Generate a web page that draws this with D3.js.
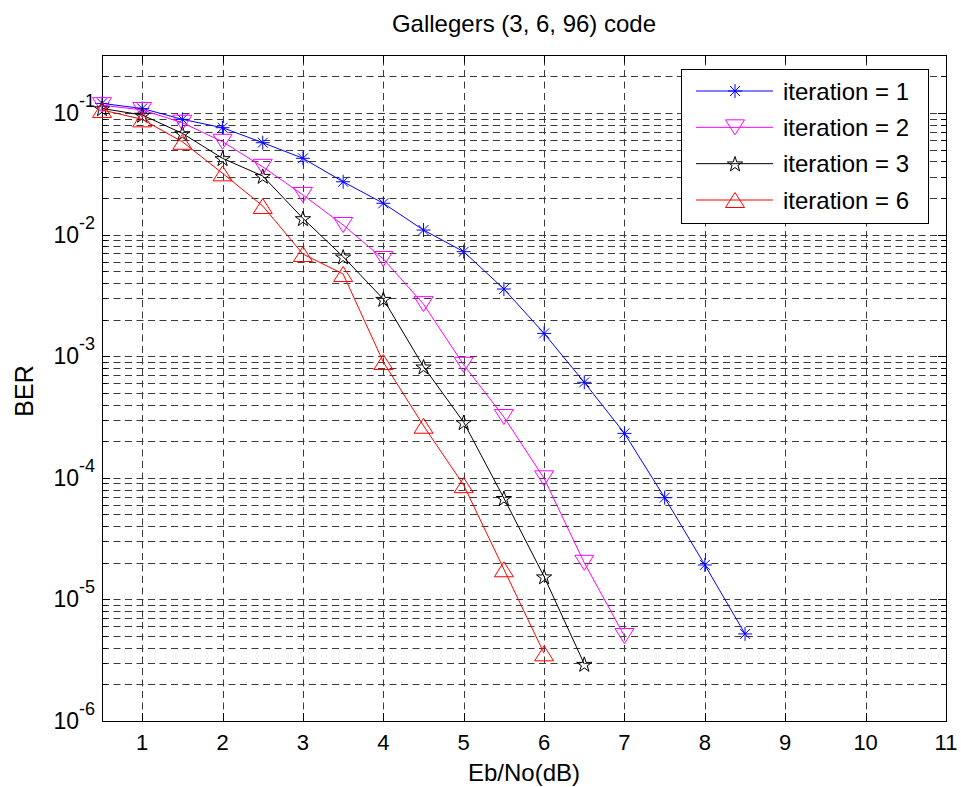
<!DOCTYPE html>
<html>
<head>
<meta charset="utf-8">
<script src="https://cdn.jsdelivr.net/npm/d3@7/dist/d3.min.js"></script>
<style>
  body { margin: 0; background: #fff; }
  svg { display: block; font-family: "Liberation Sans", Arial, sans-serif; }
</style>
</head>
<body>
<svg id="chart" width="961" height="787"></svg>
<script>
// ---- data ----
const title = "Gallegers (3, 6, 96) code";
const xLabel = "Eb/No(dB)";
const yLabel = "BER";
const xTicks = [1, 2, 3, 4, 5, 6, 7, 8, 9, 10, 11];
const yTickExps = [-1, -2, -3, -4, -5, -6];

const ebno1 = [0.5, 1, 1.5, 2, 2.5, 3, 3.5, 4, 4.5, 5, 5.5, 6, 6.5, 7, 7.5, 8, 8.5];
const ber1 = [0.120, 0.109, 0.0887, 0.0757, 0.057, 0.0424, 0.0272, 0.0181, 0.0109, 0.00724, 0.00357, 0.00154, 6.1e-4, 2.32e-4, 6.86e-5, 1.92e-5, 5.2e-6];

const ebno2 = [0.5, 1, 1.5, 2, 2.5, 3, 3.5, 4, 4.5, 5, 5.5, 6, 6.5, 7];
const ber2 = [0.116, 0.106, 0.0832, 0.058, 0.0361, 0.0212, 0.0120, 0.0063, 0.00268, 8.5e-4, 3.16e-4, 9.9e-5, 2.0e-5, 5.0e-6];

const ebno3 = [0.5, 1, 1.5, 2, 2.5, 3, 3.5, 4, 4.5, 5, 5.5, 6, 6.5];
const ber3 = [0.109, 0.0964, 0.068, 0.0424, 0.0303, 0.0136, 0.00658, 0.00295, 8.2e-4, 2.86e-4, 6.8e-5, 1.54e-5, 2.94e-6];

const ebno6 = [0.5, 1, 1.5, 2, 2.5, 3, 3.5, 4, 4.5, 5, 5.5, 6];
const ber6 = [0.106, 0.0887, 0.058, 0.0319, 0.0172, 0.00692, 0.00474, 8.95e-4, 2.68e-4, 8.7e-5, 1.77e-5, 3.6e-6];

const seriesNames = ["iteration = 1", "iteration = 2", "iteration = 3", "iteration = 6"];
const seriesColors = ["#0000ff", "#ff00ff", "#000000", "#ff0000"];
const seriesMarkers = ["asterisk", "triangleDown", "pentagram", "triangleUp"];

const series = [
  { name: seriesNames[0], x: ebno1, y: ber1, color: seriesColors[0], marker: seriesMarkers[0] },
  { name: seriesNames[1], x: ebno2, y: ber2, color: seriesColors[1], marker: seriesMarkers[1] },
  { name: seriesNames[2], x: ebno3, y: ber3, color: seriesColors[2], marker: seriesMarkers[2] },
  { name: seriesNames[3], x: ebno6, y: ber6, color: seriesColors[3], marker: seriesMarkers[3] }
];

// ---- layout ----
const L = 102, R = 946, T = 55, B = 721;
const svg = d3.select("#chart");

const x = d3.scaleLinear().domain([0.5, 11]).range([L, R]);
const y = d3.scaleLog().domain([1e-6, 0.3]).range([B, T]);

// grid values
const yGrid = [];
for (let e = -6; e <= -1; e++) {
  for (let m = 1; m <= 9; m++) {
    const v = m * Math.pow(10, e);
    if (v >= 1e-6 && v <= 0.3) yGrid.push(v);
  }
}
const xGrid = xTicks.filter(t => t < 11);

const grid = svg.append("g").attr("stroke", "#3a3a3a").attr("stroke-width", 1)
  .attr("stroke-dasharray", "7,4.5").attr("fill", "none");
grid.selectAll("line.h").data(yGrid.filter(v => v > 1e-6)).enter().append("line")
  .attr("x1", L).attr("x2", R)
  .attr("y1", d => Math.round(y(d)) + 0.5).attr("y2", d => Math.round(y(d)) + 0.5);
grid.selectAll("line.v").data(xGrid).enter().append("line")
  .attr("y1", B).attr("y2", T)
  .attr("x1", d => Math.round(x(d)) + 0.5).attr("x2", d => Math.round(x(d)) + 0.5);

// axes ticks (inside, on all four sides)
const ax = svg.append("g").attr("stroke", "#000").attr("stroke-width", 1);
xTicks.forEach(t => {
  const px = Math.round(x(t)) + 0.5;
  ax.append("line").attr("x1", px).attr("x2", px).attr("y1", B).attr("y2", B - 8);
  ax.append("line").attr("x1", px).attr("x2", px).attr("y1", T).attr("y2", T + 8);
});
yGrid.forEach(v => {
  const py = Math.round(y(v)) + 0.5;
  const major = Math.abs(Math.log10(v) - Math.round(Math.log10(v))) < 1e-9;
  const len = major ? 8 : 5;
  ax.append("line").attr("x1", L).attr("x2", L + len).attr("y1", py).attr("y2", py);
  ax.append("line").attr("x1", R).attr("x2", R - len).attr("y1", py).attr("y2", py);
});
// box
svg.append("rect").attr("x", L + 0.5).attr("y", T + 0.5).attr("width", R - L).attr("height", B - T)
  .attr("fill", "none").attr("stroke", "#000").attr("stroke-width", 1);

// tick labels
svg.append("g").selectAll("text").data(xTicks).enter().append("text")
  .attr("x", d => x(d)).attr("y", 750).attr("text-anchor", "middle")
  .attr("font-size", 22).attr("fill", "#000").text(d => d);

const yl = svg.append("g").selectAll("text").data(yTickExps).enter().append("text")
  .attr("x", 95).attr("y", d => y(Math.pow(10, d)) + 8).attr("text-anchor", "end")
  .attr("font-size", 23).attr("fill", "#000");
yl.append("tspan").text("10");
yl.append("tspan").attr("font-size", 18).attr("dy", -14).text(d => d);

// titles
svg.append("text").attr("x", (L + R) / 2).attr("y", 32).attr("text-anchor", "middle")
  .attr("font-size", 24).text(title);
svg.append("text").attr("x", (L + R) / 2).attr("y", 781).attr("text-anchor", "middle")
  .attr("font-size", 24).text(xLabel);
svg.append("text").attr("transform", `translate(33,${(T + B) / 2 + 3}) rotate(-90)`)
  .attr("text-anchor", "middle").attr("font-size", 25).text(yLabel);

// marker paths
function markerPath(type) {
  if (type === "asterisk") {
    const r = 7, d = 5;
    return `M${-r},0L${r},0M0,${-r}L0,${r}M${-d},${-d}L${d},${d}M${-d},${d}L${d},${-d}`;
  }
  if (type === "triangleDown") {
    const w = 9.5, h = 7.5;
    return `M${-w},${-h}L${w},${-h}L0,${h}Z`;
  }
  if (type === "triangleUp") {
    const w = 9.5, h = 7.5;
    return `M${-w},${h}L${w},${h}L0,${-h}Z`;
  }
  if (type === "pentagram") {
    const Ro = 8, Ri = Ro * 0.382;
    let p = "";
    for (let i = 0; i < 10; i++) {
      const rr = i % 2 === 0 ? Ro : Ri;
      const a = -Math.PI / 2 + i * Math.PI / 5;
      p += (i === 0 ? "M" : "L") + (rr * Math.cos(a)).toFixed(2) + "," + (rr * Math.sin(a) + 0.8).toFixed(2);
    }
    return p + "Z";
  }
  return "";
}

// series
const line = d3.line().x(d => x(d[0])).y(d => y(d[1]));
const plot = svg.append("g");
series.forEach(s => {
  const pts = s.x.map((v, i) => [v, s.y[i]]);
  plot.append("path").datum(pts).attr("d", line).attr("fill", "none")
    .attr("stroke", s.color).attr("stroke-width", 1);
  plot.selectAll(null).data(pts).enter().append("path")
    .attr("transform", d => `translate(${x(d[0])},${y(d[1])})`)
    .attr("d", markerPath(s.marker)).attr("fill", "none")
    .attr("stroke", s.color).attr("stroke-width", 1);
});

// legend
const lg = svg.append("g");
const lgX = 681, lgY = 69, lgW = 247, lgH = 154;
lg.append("rect").attr("x", lgX + 0.5).attr("y", lgY + 0.5).attr("width", lgW).attr("height", lgH)
  .attr("fill", "#fff").attr("stroke", "#000").attr("stroke-width", 1);
const rowY = d3.scaleLinear().domain([0, 3]).range([91, 200]);
series.forEach((s, i) => {
  const yy = rowY(i);
  lg.append("line").attr("x1", 696).attr("x2", 773).attr("y1", yy).attr("y2", yy)
    .attr("stroke", s.color).attr("stroke-width", 1);
  lg.append("path").attr("transform", `translate(735,${yy})`).attr("d", markerPath(s.marker))
    .attr("fill", "none").attr("stroke", s.color).attr("stroke-width", 1);
  lg.append("text").attr("x", 783).attr("y", yy + 8.5).attr("font-size", 24).text(s.name);
});
</script>
</body>
</html>
